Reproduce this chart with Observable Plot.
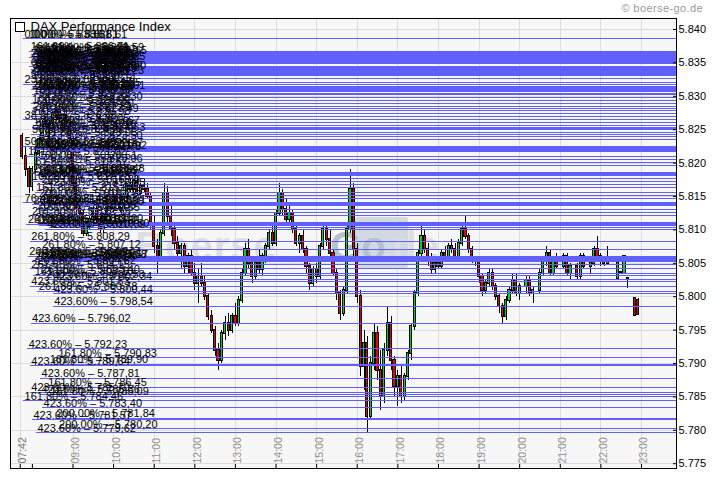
<!DOCTYPE html>
<html><head><meta charset="utf-8">
<script src="https://cdn.jsdelivr.net/npm/d3@7"></script>
<script src="https://cdn.jsdelivr.net/npm/@observablehq/plot@0.6"></script>
<style>body{margin:0;background:#fff;} svg{display:block;}</style>
</head><body>
<script>
const day = "2012-06-01T";
const T = s => new Date(day + s + ":00Z");

// ---- candles (5 minute) ----
const candleTime = [
"07:45","07:50","07:55",
"08:00","08:05","08:10","08:15","08:20","08:25","08:30","08:35","08:40","08:45","08:50","08:55",
"09:00","09:05","09:10","09:15","09:20","09:25","09:30","09:35","09:40","09:45","09:50","09:55",
"10:00","10:05","10:10","10:15","10:20","10:25","10:30","10:35","10:40","10:45","10:50","10:55",
"11:00","11:05","11:10","11:15","11:20","11:25","11:30","11:35","11:40","11:45","11:50","11:55",
"12:00","12:05","12:10","12:15","12:20","12:25","12:30","12:35","12:40","12:45","12:50","12:55",
"13:00","13:05","13:10","13:15","13:20","13:25","13:30","13:35","13:40","13:45","13:50","13:55",
"14:00","14:05","14:10","14:15","14:20","14:25","14:30","14:35","14:40","14:45","14:50","14:55",
"15:00","15:05","15:10","15:15","15:20","15:25","15:30","15:35","15:40","15:45","15:50","15:55",
"16:00","16:05","16:10","16:15","16:20","16:25","16:30","16:35","16:40","16:45","16:50","16:55",
"17:00","17:05","17:10","17:15","17:20","17:25","17:30","17:35","17:40","17:45","17:50","17:55",
"18:00","18:05","18:10","18:15","18:20","18:25","18:30","18:35","18:40","18:45","18:50","18:55",
"19:00","19:05","19:10","19:15","19:20","19:25","19:30","19:35","19:40","19:45","19:50","19:55",
"20:00","20:10","20:15","20:20","20:30","20:35","20:40","20:45","20:50","20:55",
"21:05","21:10","21:15","21:25","21:30","21:35","21:45","21:50","21:55",
"22:00","22:05","22:10","22:25","22:30","22:35","22:40","22:50","22:55"];
const candleOpen = [
5824.0,5821.0,5819.0,
5816.5,5819.0,5821.5,5823.5,5826.0,5825.0,5826.0,5827.5,5828.0,5826.5,5827.2,5825.5,
5823.5,5817.0,5813.0,5812.5,5809.5,5810.5,5811.5,5813.0,5811.5,5810.0,5812.0,5814.0,
5813.0,5815.0,5814.0,5813.0,5815.0,5816.5,5816.0,5817.2,5815.5,5816.5,5816.0,5815.0,
5811.0,5807.5,5806.0,5809.5,5815.5,5812.0,5810.0,5808.0,5806.5,5807.5,5804.5,5806.0,
5803.5,5802.0,5803.0,5802.0,5800.0,5797.0,5795.0,5792.0,5790.5,5794.5,5796.0,5795.0,
5797.0,5796.0,5799.5,5803.5,5807.0,5805.0,5803.0,5805.0,5804.0,5806.0,5807.5,5809.5,
5808.0,5812.5,5815.5,5813.0,5811.5,5812.5,5810.0,5808.0,5809.0,5807.0,5804.5,5802.0,
5804.0,5803.0,5807.5,5810.0,5808.5,5806.5,5803.5,5800.5,5797.5,5801.0,5810.0,5816.0,
5807.0,5800.0,5789.5,5793.0,5782.0,5790.0,5794.5,5789.0,5785.0,5792.0,5796.0,5790.5,
5786.5,5788.0,5785.0,5788.0,5791.5,5795.5,5800.5,5806.5,5809.0,5807.0,5805.5,5804.0,
5805.0,5804.5,5806.5,5806.0,5807.5,5807.0,5806.0,5808.0,5810.0,5809.0,5807.0,5805.5,
5805.5,5803.0,5801.0,5802.0,5803.5,5801.5,5800.0,5798.5,5797.0,5799.5,5801.0,5802.5,
5800.5,5801.5,5802.5,5800.5,5801.0,5803.5,5805.5,5806.5,5803.5,5805.5,
5804.5,5806.0,5803.5,5804.5,5803.0,5806.0,5804.5,5805.0,5807.0,
5806.0,5805.5,5805.0,5802.7,5803.6,5803.5,5802.7,5799.7,5799.5];
const candleHigh = [
5824.5,5822.5,5819.5,
5819.5,5822.0,5824.0,5826.5,5827.0,5826.5,5828.0,5829.0,5828.8,5827.5,5827.8,5826.0,
5824.0,5818.0,5814.5,5813.0,5811.0,5812.0,5813.5,5814.0,5812.5,5812.5,5814.5,5815.0,
5815.5,5816.0,5815.0,5815.5,5817.0,5817.5,5817.5,5818.0,5817.0,5817.5,5817.0,5815.5,
5812.0,5808.5,5810.0,5817.0,5816.5,5814.0,5811.0,5809.0,5808.0,5808.0,5806.5,5807.0,
5805.0,5804.0,5805.0,5803.0,5800.5,5798.0,5795.5,5793.0,5795.0,5797.0,5797.5,5797.5,
5799.0,5800.0,5804.0,5808.0,5808.5,5806.0,5805.5,5807.0,5806.5,5808.0,5810.0,5810.5,
5813.0,5817.0,5816.0,5814.5,5813.5,5813.0,5811.0,5809.5,5810.0,5807.5,5805.0,5804.5,
5805.0,5808.0,5811.0,5811.0,5810.0,5807.0,5804.0,5801.0,5801.5,5811.0,5819.0,5817.0,
5808.0,5801.0,5795.0,5794.0,5791.0,5796.0,5795.5,5792.0,5793.0,5798.5,5797.0,5791.0,
5789.0,5789.5,5788.5,5792.0,5796.0,5801.0,5807.0,5811.0,5810.0,5808.0,5806.5,5805.5,
5806.0,5807.0,5807.5,5808.0,5808.5,5808.0,5808.5,5810.5,5812.0,5809.5,5807.5,5806.0,
5805.5,5803.5,5802.5,5804.0,5804.0,5802.0,5800.5,5799.0,5800.0,5801.5,5803.5,5803.5,
5802.0,5803.0,5803.0,5801.5,5804.0,5806.0,5807.5,5807.0,5806.0,5806.5,
5806.5,5806.5,5805.0,5805.0,5806.5,5806.5,5805.5,5807.5,5809.0,
5806.5,5806.0,5807.5,5805.2,5803.6,5806.2,5802.7,5799.7,5799.7];
const candleLow = [
5820.5,5818.0,5815.5,
5815.8,5818.5,5821.0,5823.0,5824.5,5823.0,5825.5,5826.5,5826.0,5825.5,5825.0,5823.0,
5816.0,5812.0,5811.5,5809.0,5809.0,5810.0,5811.0,5811.0,5809.5,5809.5,5811.5,5812.5,
5812.5,5813.5,5812.5,5812.5,5814.5,5815.5,5815.5,5815.0,5814.5,5815.5,5814.5,5810.0,
5806.5,5803.5,5805.5,5809.0,5811.0,5809.0,5807.0,5805.5,5804.0,5803.5,5803.5,5803.0,
5801.0,5799.0,5801.5,5799.5,5796.5,5794.5,5791.0,5789.0,5790.0,5793.5,5794.0,5794.5,
5795.5,5795.5,5799.0,5803.0,5804.0,5802.0,5802.5,5803.5,5803.0,5805.0,5807.0,5807.5,
5807.5,5812.0,5812.0,5811.0,5810.5,5809.5,5807.5,5806.5,5806.5,5803.5,5801.0,5801.5,
5802.0,5802.5,5807.0,5807.5,5806.0,5803.0,5799.5,5796.5,5797.0,5800.5,5809.5,5806.0,
5799.0,5788.0,5786.0,5779.5,5781.5,5789.0,5787.5,5783.0,5784.0,5791.0,5789.0,5785.0,
5783.5,5784.0,5784.5,5787.5,5790.5,5795.0,5800.0,5806.0,5806.5,5804.5,5803.5,5803.5,
5804.0,5804.0,5805.5,5805.5,5806.5,5805.5,5805.5,5807.5,5808.5,5806.5,5805.0,5804.5,
5802.0,5800.0,5800.5,5801.5,5801.0,5799.5,5797.5,5796.0,5796.5,5799.0,5800.5,5800.0,
5799.5,5800.5,5800.0,5799.0,5800.5,5803.0,5804.5,5803.0,5803.0,5804.0,
5804.0,5803.0,5802.5,5802.5,5802.5,5804.0,5803.5,5804.5,5805.5,
5804.5,5804.5,5805.0,5802.7,5803.6,5803.5,5801.3,5797.2,5797.2];
const candleClose = [
5821.0,5819.0,5816.5,
5819.0,5821.5,5823.5,5826.0,5825.0,5826.0,5827.5,5828.0,5826.5,5827.2,5825.5,5823.5,
5817.0,5813.0,5812.5,5809.5,5810.5,5811.5,5813.0,5811.5,5810.0,5812.0,5814.0,5813.0,
5815.0,5814.0,5813.0,5815.0,5816.5,5816.0,5817.2,5815.5,5816.5,5816.0,5815.0,5811.0,
5807.5,5806.0,5809.5,5815.5,5812.0,5810.0,5808.0,5806.5,5807.5,5804.5,5806.0,5803.5,
5802.0,5803.0,5802.0,5800.0,5797.0,5795.0,5792.0,5790.5,5794.5,5796.0,5795.0,5797.0,
5796.0,5799.5,5803.5,5807.0,5805.0,5803.0,5805.0,5804.0,5806.0,5807.5,5809.5,5808.0,
5812.5,5815.5,5813.0,5811.5,5812.5,5810.0,5808.0,5809.0,5807.0,5804.5,5802.0,5804.0,
5803.0,5807.5,5810.0,5808.5,5806.5,5803.5,5800.5,5797.5,5801.0,5810.0,5816.0,5807.0,
5800.0,5789.5,5793.0,5782.0,5790.0,5794.5,5789.0,5785.0,5792.0,5796.0,5790.5,5786.5,
5788.0,5785.0,5788.0,5791.5,5795.5,5800.5,5806.5,5809.0,5807.0,5805.5,5804.0,5805.0,
5804.5,5806.5,5806.0,5807.5,5807.0,5806.0,5808.0,5810.0,5809.0,5807.0,5805.5,5805.5,
5803.0,5801.0,5802.0,5803.5,5801.5,5800.0,5798.5,5797.0,5799.5,5801.0,5802.5,5800.5,
5801.5,5802.5,5800.5,5801.0,5803.5,5805.5,5806.5,5803.5,5805.5,5804.5,
5806.0,5803.5,5804.5,5803.0,5806.0,5804.5,5805.0,5807.0,5806.0,
5805.5,5805.0,5805.5,5805.0,5803.6,5806.0,5802.7,5797.2,5797.3];

// ---- Fibonacci levels ----
const fibValue = [
5838.61,5838.61,5838.61,5836.71,5836.48,5836.26,5836.03,5835.81,5835.58,5835.36,5835.13,5834.91,
5834.46,5834.24,5834.01,5833.79,5833.56,5833.34,5833.11,5832.66,5832.14,5831.84,5831.47,5831.24,
5831.02,5830.79,5830.49,5830.27,5829.75,5829.30,5828.92,5828.55,5828.20,5827.84,5827.49,5826.98,
5826.48,5826.05,5825.67,5825.40,5825.18,5824.96,5824.63,5824.31,5823.95,5823.50,5822.49,5822.26,
5822.04,5821.78,5821.02,5820.51,5820.06,5819.57,5818.59,5818.37,5818.14,5817.77,5817.28,5816.80,
5816.35,5815.64,5815.15,5814.77,5814.03,5813.80,5813.58,5813.05,5812.65,5812.15,5811.11,5810.88,
5810.66,5810.30,5810.09,
5808.29,5807.12,5806.02,5805.79,5805.57,5805.34,5804.82,5804.15,5803.40,5803.10,5802.58,5802.34,
5801.53,5800.78,5800.44,5798.54,5796.02,5792.23,5790.83,5789.90,5789.64,5787.81,5786.45,5785.70,
5785.36,5785.09,5784.46,5783.40,5781.84,5781.57,5780.20,5779.62,
5836.59,5836.37,5836.15,5835.92,5835.70,5835.47,5835.25,5835.02,
5834.35,5834.12,5833.90,5833.68,5833.45,5833.23,
5831.35,5831.13,5830.91,
5822.37,5822.15,5821.92,
5818.48,5818.26,
5813.91,5813.69,
5811.00,5810.77,
5805.91,5805.68,5805.46];
const fibPct = [
"0.00%","100.00%","0.00%","161.80%","61.80%","200.00%","76.40%","261.80%","100.00%","161.80%","50.00%","200.00%",
"61.80%","161.80%","38.20%","100.00%","261.80%","76.40%","200.00%","50.00%","161.80%","23.60%","100.00%","61.80%",
"261.80%","200.00%","76.40%","161.80%","50.00%","423.60%","100.00%","61.80%","38.20%","200.00%","161.80%","261.80%",
"38.20%","76.40%","423.60%","100.00%","61.80%","200.00%","161.80%","50.00%","261.80%","423.60%","50.00%","200.00%",
"161.80%","423.60%","161.80%","100.00%","261.80%","61.80%","200.00%","423.60%","161.80%","261.80%","100.00%","200.00%",
"423.60%","161.80%","261.80%","200.00%","76.40%","261.80%","423.60%","200.00%","161.80%","261.80%","200.00%","261.80%",
"200.00%","200.00%","423.60%",
"261.80%","261.80%","200.00%","161.80%","423.60%","200.00%","261.80%","261.80%","261.80%","161.80%","200.00%","423.60%",
"423.60%","261.80%","423.60%","423.60%","423.60%","423.60%","161.80%","161.80%","423.60%","423.60%","161.80%","423.60%",
"423.60%","161.80%","161.80%","423.60%","200.00%","423.60%","200.00%","423.60%",
"161.80%","261.80%","200.00%","423.60%","100.00%","161.80%","261.80%","200.00%",
"423.60%","61.80%","200.00%","261.80%","161.80%","423.60%",
"261.80%","161.80%","423.60%",
"200.00%","261.80%","423.60%",
"161.80%","261.80%",
"423.60%","200.00%",
"261.80%","161.80%",
"423.60%","261.80%","161.80%"];
const fibStart = [
"07:47","07:53","07:58","07:56","08:02","07:59","08:05","07:56","08:08","08:02","07:59","08:05",
"07:56","08:02","07:59","08:08","07:58","08:04","08:00","07:56","08:06","07:47","08:00","08:10",
"07:58","08:04","08:12","08:00","08:08","08:16","07:58","08:05","08:12","08:00","08:10","07:58",
"07:47","08:05","08:12","08:00","08:16","08:03","08:20","07:58","08:08","08:16","07:47","08:02",
"07:59","08:14","07:52","08:08","08:16","08:03","08:00","08:15","08:06","08:10","07:58","08:12",
"08:20","08:04","08:15","08:08","07:47","08:00","08:18","08:06","08:12","07:58","08:03","07:52",
"08:11","08:26","08:20",
"07:57","08:13","07:54","08:04","08:24","08:02","08:06","07:57","08:12","08:02","08:19","08:30",
"07:57","08:08","08:31","08:31","07:58","07:53","08:37","08:24","07:57","08:12","08:22","07:57",
"08:12","08:25","07:47","08:15","08:34","08:00","08:38","08:06",
"08:18","08:06","08:22","08:10","08:01","08:14","08:20","08:08",
"08:16","08:03","08:21","08:12","08:07","08:18",
"08:14","08:05","08:20",
"08:17","08:09","08:22",
"08:19","08:07",
"08:21","08:10",
"08:18","08:05",
"08:15","08:22","08:09"];

// ---- axes ----
const yTicks = [5775,5780,5785,5790,5795,5800,5805,5810,5815,5820,5825,5830,5835,5840];
const timeLabels = ["07:42","09:00","10:00","11:00","12:00","13:00","14:00","15:00","16:00","17:00","18:00","19:00","20:00","21:00","22:00","23:00"];
const timeTickMarks = ["07:42","08:00","09:00","10:00","11:00","12:00","13:00","14:00","15:00","16:00","17:00","18:00","19:00","20:00","21:00","22:00","23:00"];
const title = "DAX Performance Index";
const copyright = "© boerse-go.de";

const de = d3.formatLocale({decimal: ",", thousands: ".", grouping: [3], currency: ["", "€"]});
const fmtFib = de.format(",.2f");
const fmtY = de.format(",");

const candles = candleTime.map((s, i) => ({t: T(s), o: candleOpen[i], h: candleHigh[i], l: candleLow[i], c: candleClose[i]}));
const fibs = fibValue.map((v, i) => ({v, pct: fibPct[i], t: T(fibStart[i])}));
const xStart = new Date(day + "07:27:39Z");
const xEnd = new Date(day + "23:51:43Z");

function watermark() {
  const g = d3.create("svg:g").attr("font-family", "Liberation Sans, Arial, sans-serif").attr("font-weight", "bold").attr("font-size", 40);
  g.append("text").attr("x", 206).attr("y", 260).attr("fill", "#dedede").attr("letter-spacing", 1).text("Boerse");
  g.append("rect").attr("x", 355).attr("y", 217).attr("width", 53).attr("height", 51).attr("rx", 3).attr("fill", "#d2d9e3");
  g.append("text").attr("x", 358).attr("y", 260).attr("fill", "#b6c1cf").text("Go");
  g.append("text").attr("x", 410).attr("y", 260).attr("fill", "#dedede").text(".de");
  return g.node();
}
function decorations() {
  const g = d3.create("svg:g");
  g.append("rect").attr("x", 15.5).attr("y", 22.5).attr("width", 9).attr("height", 9).attr("fill", "white").attr("stroke", "black");
  g.append("text").attr("x", 703).attr("y", 12).attr("text-anchor", "end").attr("fill", "#999").attr("font-size", 11).attr("letter-spacing", 0.4).text(copyright);
  return g.node();
}

const chart = Plot.plot({
  width: 720, height: 481,
  marginLeft: 10, marginRight: 44, marginTop: 18, marginBottom: 13,
  style: {background: "white", fontFamily: "Liberation Sans, Arial, sans-serif", fontSize: "11px", color: "black"},
  x: {type: "utc", domain: [xStart, xEnd], label: null, axis: null},
  y: {domain: [5774.28, 5841.65], label: null, axis: null},
  color: {type: "identity"},
  marks: [
    Plot.frame({fill: "#f7f7f7"}),
    Plot.gridX(timeLabels.map(T), {stroke: "#dcdcdc", strokeOpacity: 1, shapeRendering: "crispEdges"}),
    Plot.gridY(yTicks, {stroke: "#dcdcdc", strokeOpacity: 1, shapeRendering: "crispEdges"}),
    watermark,
    Plot.ruleX(candles, {x: "t", y1: "l", y2: "h", stroke: "black", strokeWidth: 1, shapeRendering: "crispEdges"}),
    Plot.rect(candles, {
      x1: d => new Date(+d.t - 96000), x2: d => new Date(+d.t + 96000),
      y1: d => Math.min(d.o, d.c), y2: d => Math.max(d.o, d.c),
      fill: d => d.c >= d.o ? "#00dd00" : "#ee0000",
      stroke: "black", strokeWidth: 1, insetTop: -0.5, insetBottom: -0.5, shapeRendering: "crispEdges"
    }),
    Plot.ruleY(fibs, {y: "v", x1: "t", x2: () => xEnd, stroke: "#6060ff", strokeWidth: 1, shapeRendering: "crispEdges"}),
    Plot.text([title], {frameAnchor: "top-left", text: d => d, dx: 20, dy: 3, lineAnchor: "top", textAnchor: "start", fontSize: 13, fill: "black"}),
    Plot.text(fibs, {x: "t", y: "v", text: d => `${d.pct} – ${fmtFib(d.v)}`, textAnchor: "start", lineAnchor: "bottom", dx: 1, dy: -1, fontSize: 11, fill: "black"}),
    Plot.text(timeLabels, {x: d => T(d), text: d => d, frameAnchor: "bottom", rotate: -90, textAnchor: "start", dx: 6, dy: -5, fontSize: 10.5,
      fill: d => d === "07:42" ? "#707070" : "#909090", fontWeight: d => d === "07:42" ? "bold" : "normal"}),
    Plot.axisX(timeTickMarks.map(T), {anchor: "bottom", tickSize: -4, tickFormat: () => "", label: null, stroke: "black"}),
    Plot.axisY(yTicks, {anchor: "right", tickSize: -4, tickPadding: 6, tickFormat: fmtY, label: null, fontSize: 11, fill: "black", stroke: "black"}),
    Plot.frame({stroke: "black", shapeRendering: "crispEdges"}),
    decorations
  ]
});
document.body.appendChild(chart);
</script>
</body></html>
